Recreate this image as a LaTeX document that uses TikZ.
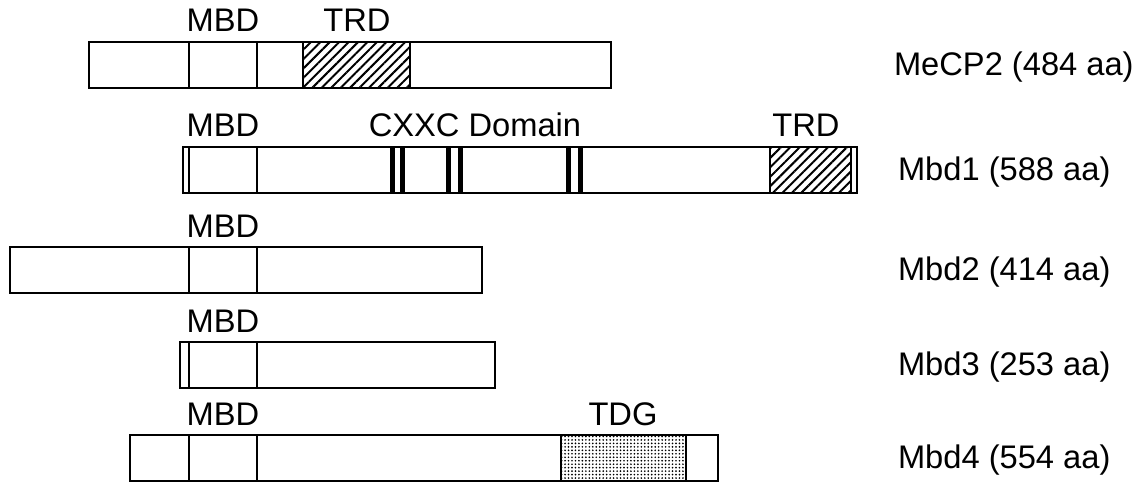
\documentclass[tikz,border=0pt]{standalone}
\usepackage{fontspec}
\setmainfont{Liberation Sans}
\usetikzlibrary{patterns.meta}
\tikzset{
  every picture/.style={line width=1.5pt},
  protein/.style={draw=black, line width=1.8pt},
  divider/.style={draw=black, line width=1.3pt},
  trd/.style={pattern={Lines[angle=45, distance=5pt, line width=1.5pt]}},
  tdg/.style={pattern={Dots[distance=2.6pt, radius=0.7pt]}},
  cxxc/.style={fill=black},
  domlabel/.style={font=\fontsize{24.5}{28}\selectfont, anchor=base, inner sep=0pt},
  protname/.style={font=\fontsize{24.5}{28}\selectfont, anchor=west, inner sep=0pt},
}
\begin{document}
\begin{tikzpicture}[x=0.75pt, y=-0.75pt]
  \useasboundingbox (0,0) rectangle (1143,485);
  % domain fills
  \fill[trd] (303,42) rectangle (410,88);
  \fill[trd] (770,147) rectangle (851,193);
  \fill[tdg] (561,435) rectangle (686,481);
  \foreach \a in {390,400,446,458,566,578} {
    \fill[cxxc] (\a,147) rectangle (\a+4.5,193);
  }
  % proteins
  \foreach \n/\t/\l/\r/\x/\lab in {mecp/42/89/611/893/{MeCP2 (484 aa)}, mbdA/147/183/857/897/{Mbd1 (588 aa)}, mbdB/247/10/482/897/{Mbd2 (414 aa)}, mbdC/342/180/495/897/{Mbd3 (253 aa)}, mbdD/435/130/718/897/{Mbd4 (554 aa)}} {
    \draw[protein] (\l,\t) rectangle (\r,\t+46);
    \draw[divider] (189,\t) -- (189,\t+46) (257,\t) -- (257,\t+46);
    \node[protname] (\n) at (\x,\t+25) {\lab};
    \node[domlabel] (\n-mbd) at (223,\t-10) {MBD};
  }
  % domain borders
  \draw[divider] (303,42) -- (303,88) (410,42) -- (410,88);
  \draw[divider] (770,147) -- (770,193) (851,147) -- (851,193);
  \draw[divider] (561,435) -- (561,481) (686,435) -- (686,481);
  % labels
  \node[domlabel] (mecp-trd) at (357,32) {TRD};
  \node[domlabel] (mbdA-cxxc) at (475,137) {CXXC Domain};
  \node[domlabel] (mbdA-trd) at (806,137) {TRD};
  \node[domlabel] (mbdD-tdg) at (623,425) {TDG};
\end{tikzpicture}
\end{document}
